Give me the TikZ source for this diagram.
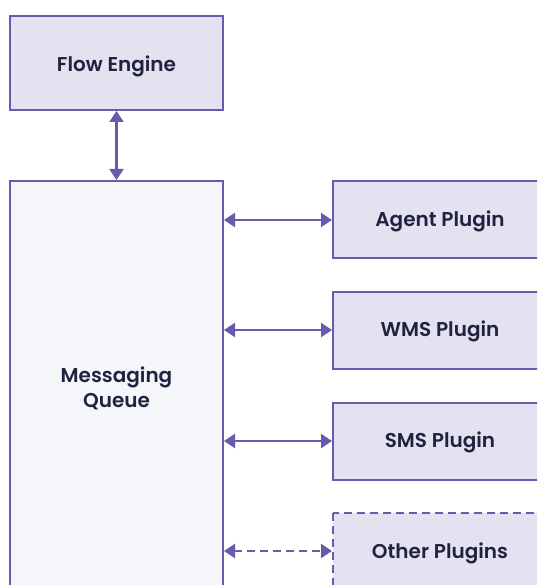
\documentclass[tikz,border=0pt]{standalone}
\usepackage{fontspec}
\setmainfont{Poppins}[BoldFont={* SemiBold}]
\usetikzlibrary{arrows.meta}
\definecolor{edge}{HTML}{6A5AAE}
\definecolor{plugfill}{HTML}{E4E1F0}
\definecolor{queuefill}{HTML}{F5F6FA}
\definecolor{ink}{HTML}{1F2340}
\tikzset{
  box/.style={draw=edge, line width=2.2pt, fill=plugfill},
  label/.style={text=ink, font=\fontsize{20}{25}\selectfont\bfseries, align=center},
  link/.style={draw=edge, line width=2.2pt, {Triangle[length=11pt,width=14pt]}-{Triangle[length=11pt,width=14pt]}},
}
\begin{document}
\begin{tikzpicture}[x=1pt,y=-1pt]
  \useasboundingbox (0,0) rectangle (537,585);
  \begin{scope}
    \clip (0,0) rectangle (537,585);
    % flow engine
    \draw[box] (10,16) rectangle (223,110);
    \node[label] (fe) at (116.5,66) {Flow Engine};
    \coordinate (feb) at (116.5,111);
    % messaging queue (runs past the lower edge)
    \draw[box, fill=queuefill] (10,181) rectangle (223,620);
    \node[label] (mq) at (116.5,388) {Messaging\\Queue};
    \coordinate (mqt) at (116.5,180);
    % plugins (run past the right edge)
    \draw[box] (333,181) rectangle (580,258);
    \node[label] (ap) at (440,221) {Agent Plugin};
    \draw[box] (333,292) rectangle (580,369);
    \node[label] (wp) at (440,331) {WMS Plugin};
    \draw[box] (333,403) rectangle (580,480);
    \node[label] (sp) at (440,442) {SMS Plugin};
    \draw[box, dashed, dash pattern=on 8pt off 5pt] (333,513) rectangle (580,620);
    \node[label] (op) at (440,553) {Other Plugins};
    % connector end points on the box edges
    \coordinate (q1) at (224,220); \coordinate (p1) at (332,220);
    \coordinate (q2) at (224,330); \coordinate (p2) at (332,330);
    \coordinate (q3) at (224,441); \coordinate (p3) at (332,441);
    \coordinate (q4) at (224,551); \coordinate (p4) at (332,551);
    \draw[link] (feb) -- (mqt);
    \draw[link] (q1) -- (p1);
    \draw[link] (q2) -- (p2);
    \draw[link] (q3) -- (p3);
    \draw[link, dash pattern=on 8pt off 5pt] (q4) -- (p4);
  \end{scope}
\end{tikzpicture}
\end{document}
